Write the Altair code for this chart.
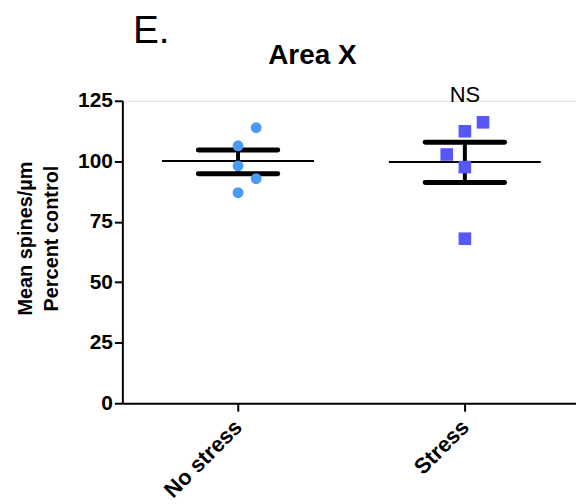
import altair as alt
import pandas as pd

groups = ["No stress", "Stress"]
group_pos = [0.5, 1.5]

no_stress_vals = [113.9, 106.4, 98.1, 92.8, 87.0]
no_stress_jit = [0.08, 0.0, 0.0, 0.08, 0.0]
stress_vals = [116.1, 112.4, 102.8, 97.6, 68.0]
stress_jit = [0.08, 0.0, -0.08, 0.0, 0.0]

means = [100.1, 99.7]
upper = [104.7, 107.9]
lower = [94.8, 91.2]

FONT = "Liberation Sans"

pts = pd.DataFrame({
    "group": ["No stress"] * 5 + ["Stress"] * 5,
    "x": [group_pos[0] + j for j in no_stress_jit] + [group_pos[1] + j for j in stress_jit],
    "y": no_stress_vals + stress_vals,
})
summ = pd.DataFrame({
    "group": groups,
    "g": group_pos,
    "mean": means,
    "upper": upper,
    "lower": lower,
})
summ["ml"] = summ["g"] - 0.335
summ["mr"] = summ["g"] + 0.335
summ["cl"] = summ["g"] - 0.175
summ["cr"] = summ["g"] + 0.175

xscale = alt.Scale(domain=[-0.01, 1.99])
yscale = alt.Scale(domain=[0, 125], nice=False)

xaxis = alt.Axis(
    values=group_pos, labelExpr="datum.value < 1 ? 'No stress' : 'Stress'",
    title=None, grid=False, labelAngle=-45, labelAlign="right", labelBaseline="middle",
    labelFont=FONT, labelFontSize=22, labelFontWeight="bold", labelColor="black",
    domainColor="black", domainWidth=2, tickColor="black", tickWidth=2, tickSize=8,
    labelPadding=12,
)
yaxis = alt.Axis(
    values=[0, 25, 50, 75, 100, 125], title=["Mean spines/µm", "Percent control"],
    grid=False, labelFont=FONT, labelFontSize=21, labelFontWeight="bold", labelColor="black",
    domainColor="black", domainWidth=2, tickColor="black", tickWidth=2, tickSize=8,
    labelPadding=2, titleFont=FONT, titleFontSize=20, titleFontWeight="bold",
    titleColor="black", titleAngle=-90, titleX=-97, titleY=138, titleAlign="center",
    titleBaseline="middle", titleLineHeight=26,
)

base_sum = alt.Chart(summ)

mean_line = base_sum.mark_rule(color="black", strokeWidth=2).encode(
    x=alt.X("ml:Q", scale=xscale, axis=xaxis), x2="mr:Q",
    y=alt.Y("mean:Q", scale=yscale, axis=yaxis),
)
caps_hi = base_sum.mark_rule(color="black", strokeWidth=5, strokeCap="round").encode(
    x=alt.X("cl:Q", scale=xscale), x2="cr:Q", y=alt.Y("upper:Q", scale=yscale),
)
caps_lo = base_sum.mark_rule(color="black", strokeWidth=5, strokeCap="round").encode(
    x=alt.X("cl:Q", scale=xscale), x2="cr:Q", y=alt.Y("lower:Q", scale=yscale),
)
vbar = base_sum.mark_rule(color="black", strokeWidth=4).encode(
    x=alt.X("g:Q", scale=xscale), y=alt.Y("lower:Q", scale=yscale), y2="upper:Q",
)

circles = alt.Chart(pts[pts.group == "No stress"]).mark_circle(
    size=120, opacity=1, color="#4A9BF5"
).encode(x=alt.X("x:Q", scale=xscale), y=alt.Y("y:Q", scale=yscale))

squares = alt.Chart(pts[pts.group == "Stress"]).mark_square(
    size=160, opacity=1, color="#5757F7"
).encode(x=alt.X("x:Q", scale=xscale), y=alt.Y("y:Q", scale=yscale))

ns = alt.Chart(pd.DataFrame({"x": [group_pos[1]], "y": [127.5], "t": ["NS"]})).mark_text(
    font=FONT, fontSize=22, color="black", baseline="middle", align="center"
).encode(x=alt.X("x:Q", scale=xscale), y=alt.Y("y:Q", scale=yscale), text="t:N")

title = alt.Chart(pd.DataFrame({"t": ["Area X"]})).mark_text(
    font=FONT, fontSize=28, fontWeight="bold", color="black", baseline="middle", align="center"
).encode(x=alt.value(191), y=alt.value(-45), text="t:N")

panel = alt.Chart(pd.DataFrame({"t": ["E."]})).mark_text(
    font=FONT, fontSize=39, color="black", baseline="middle", align="center"
).encode(x=alt.value(29), y=alt.value(-70), text="t:N")

chart = alt.layer(
    mean_line, caps_hi, caps_lo, vbar, circles, squares, ns, title, panel
).properties(
    width=456, height=304,
    autosize=alt.AutoSizeParams(type="none"),
    padding={"left": 123, "top": 100, "right": 0, "bottom": 100},
).configure_view(stroke=None).configure(background="white")

chart.save("out.html", embed_options={"renderer": "svg", "actions": False})
